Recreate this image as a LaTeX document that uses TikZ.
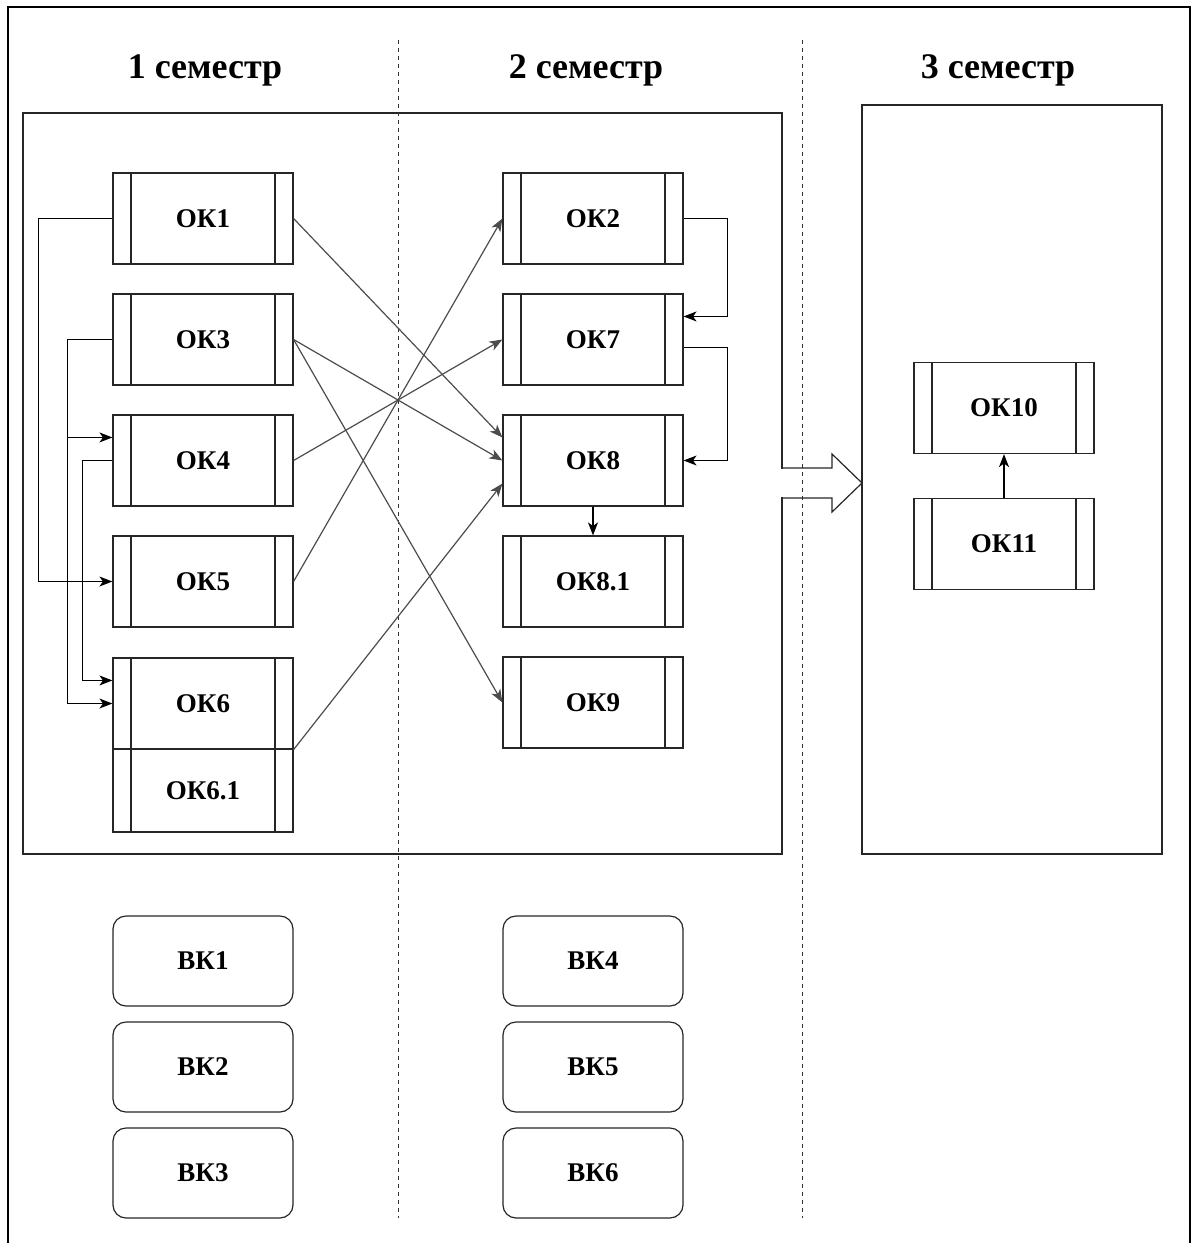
\documentclass[tikz,border=0pt]{standalone}
\usepackage{fontspec}
\setmainfont{Liberation Serif}
\usetikzlibrary{arrows.meta,calc}
\begin{document}
\begin{tikzpicture}[x=0.5pt,y=-0.5pt,line width=0.6pt,
        ok/.style={draw,black!85,text=black,minimum width=90pt,minimum height=45.5pt,inner sep=0pt,
            font=\fontsize{13.5}{16}\selectfont\bfseries,
            path picture={\draw ([xshift=9pt]path picture bounding box.north west) -- ([xshift=9pt]path picture bounding box.south west)
                ([xshift=-9pt]path picture bounding box.north east) -- ([xshift=-9pt]path picture bounding box.south east);}},
        vk/.style={draw,black!85,text=black,rounded corners=6.5pt,minimum width=90pt,minimum height=45pt,inner sep=0pt,
            font=\fontsize{13.5}{16}\selectfont\bfseries},
        sem/.style={anchor=base,font=\fontsize{18}{21}\selectfont\bfseries},
        link/.style={-{Stealth[length=6.5pt,width=5pt,inset=1.8pt]}},
        cross/.style={link,black!70},
        sep/.style={black!80,line width=0.5pt,dash pattern=on 2pt off 2pt}]
    \useasboundingbox (0,0) rectangle (1191,1243);
    \draw (8,1243) -- (8,7) -- (1190,7) -- (1190,1243);
    \node[sem] (s1) at (205,78) {1 семестр};
    \node[sem] (s2) at (586,78) {2 семестр};
    \node[sem] (s3) at (998,78) {3 семестр};
    \draw[black!85] (23,113) rectangle (782,854);
    \draw[black!85] (862,105) rectangle (1162,854);
    \draw[sep] (398,40) -- (398,1218);
    \draw[sep] (802,40) -- (802,1218);
    \fill[white] (779,469) rectangle (785,497);
    \draw[black!85] (782,468) -- (832,468) -- (832,454) -- (862,483) -- (832,512) -- (832,498) -- (782,498);
    \node[ok] (ok1) at (203,218.5) {ОК1};
    \node[ok] (ok3) at (203,339.5) {ОК3};
    \node[ok] (ok4) at (203,460.5) {ОК4};
    \node[ok] (ok5) at (203,581.5) {ОК5};
    \node[ok] (ok6) at (203,703.5) {ОК6};
    \node[ok,minimum height=41.5pt] (ok61) at (203,790.5) {ОК6.1};
    \node[ok] (ok2) at (593,218.5) {ОК2};
    \node[ok] (ok7) at (593,339.5) {ОК7};
    \node[ok] (ok8) at (593,460.5) {ОК8};
    \node[ok] (ok81) at (593,581.5) {ОК8.1};
    \node[ok] (ok9) at (593,702.5) {ОК9};
    \node[ok] (ok10) at (1004,408) {ОК10};
    \node[ok] (ok11) at (1004,544) {ОК11};
    \node[vk] (vk1) at (203,961) {ВК1};
    \node[vk] (vk2) at (203,1067) {ВК2};
    \node[vk] (vk3) at (203,1173) {ВК3};
    \node[vk] (vk4) at (593,961) {ВК4};
    \node[vk] (vk5) at (593,1067) {ВК5};
    \node[vk] (vk6) at (593,1173) {ВК6};
    \draw[link] (ok1.west) -- ++(-74,0) |- (ok5.west);
    \draw[link] (ok3.west) -- ++(-45,0) |- ($(ok4.north west)!.25!(ok4.south west)$);
    \draw[link] (ok3.west) -- ++(-45,0) |- (ok6.west);
    \draw[link] (ok4.west) -- ++(-30,0) |- ($(ok6.north west)!.25!(ok6.south west)$);
    \draw[link] (ok2.east) -- ++(44,0) |- ($(ok7.north east)!.25!(ok7.south east)$);
    \draw[link] ([yshift=-4pt]ok7.east) -- ++(44,0) |- (ok8.east);
    \draw[link] (ok8.south) -- (ok81.north);
    \draw[link] (ok11.north) -- (ok10.south);
    \draw[cross] (ok1.east) -- ($(ok8.north west)!.25!(ok8.south west)$);
    \draw[cross] (ok3.east) -- (ok8.west);
    \draw[cross] (ok3.east) -- (ok9.west);
    \draw[cross] (ok4.east) -- (ok7.west);
    \draw[cross] (ok5.east) -- (ok2.west);
    \draw[cross] (ok6.south east) -- ($(ok8.north west)!.75!(ok8.south west)$);
\end{tikzpicture}
\end{document}
